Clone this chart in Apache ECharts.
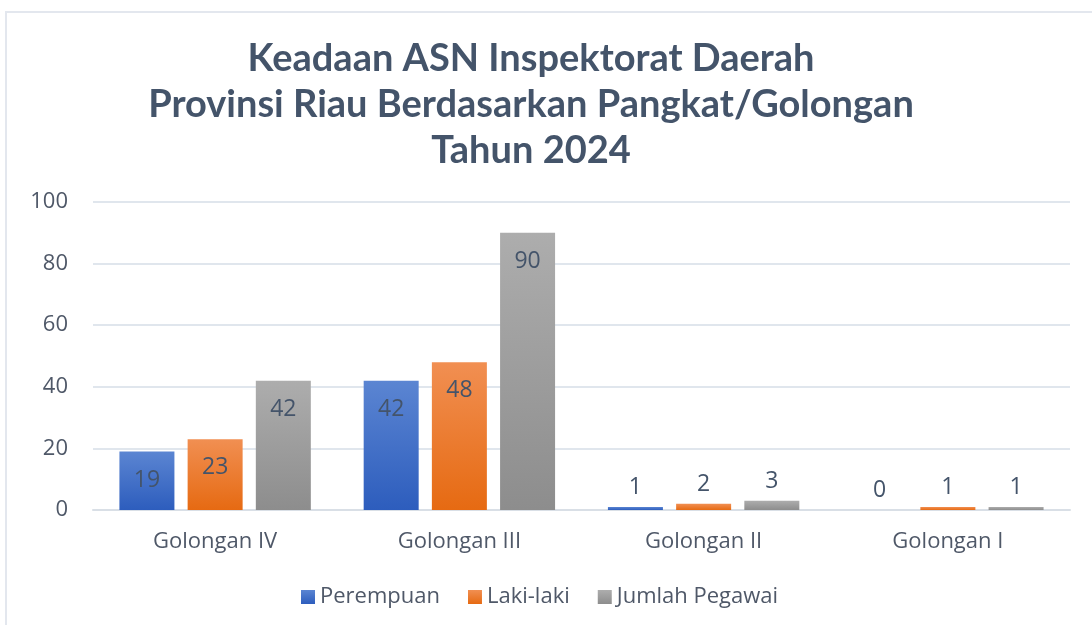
<!DOCTYPE html>
<html>
<head>
<meta charset="utf-8">
<script src="https://cdn.jsdelivr.net/npm/echarts@6/dist/echarts.min.js"></script>
<style>
  html, body { margin: 0; padding: 0; background: #fff; }
  #frame { position: absolute; left: 5px; top: 11px; width: 1100px; height: 630px; border: 2px solid #e3e7ee; box-sizing: border-box; }
  #main { position: absolute; left: 0; top: 0; width: 1092px; height: 625px; }
</style>
</head>
<body>
<div id="frame"></div>
<div id="main"></div>
<script>
const categories = ['Golongan IV', 'Golongan III', 'Golongan II', 'Golongan I'];
const perempuan = [19, 42, 1, 0];
const lakiLaki = [23, 48, 2, 1];
const jumlahPegawai = [42, 90, 3, 1];
const yTicks = { min: 0, max: 100, interval: 20 };

const textColor = '#4f5868';
const chart = echarts.init(document.getElementById('main'));

const grad = (top, bottom) => new echarts.graphic.LinearGradient(0, 0, 0, 1, [
  { offset: 0, color: top },
  { offset: 1, color: bottom }
]);

// big bars get the label inside the top, tiny ones above
const withLabels = (values) => values.map((v) => ({
  value: v,
  label: v > 8
    ? { position: 'insideTop', distance: 17 }
    : { position: 'top', distance: 8 }
}));

const barSeries = (name, values, top, bottom) => ({
  name: name,
  type: 'bar',
  barWidth: 55,
  barGap: '24%',
  data: withLabels(values),
  itemStyle: { color: grad(top, bottom) },
  label: {
    show: true,
    color: '#44546a',
    fontSize: 23,
    fontFamily: 'Open Sans'
  }
});

const option = {
  animation: false,
  title: {
    text: 'Keadaan ASN Inspektorat Daerah\nProvinsi Riau Berdasarkan Pangkat/Golongan\nTahun 2024',
    left: 526,
    top: 31,
    textAlign: 'center',
    textStyle: {
      color: '#44546a',
      fontSize: 38,
      fontWeight: 'bold',
      fontFamily: 'Lato',
      lineHeight: 46
    }
  },
  legend: {
    top: 581,
    left: 296,
    itemWidth: 14,
    itemHeight: 14,
    itemGap: 28,
    icon: 'rect',
    textStyle: { color: textColor, fontSize: 22, fontFamily: 'Open Sans' },
    data: ['Perempuan', 'Laki-laki', 'Jumlah Pegawai']
  },
  grid: { left: 93, right: 22, top: 202, bottom: 115 },
  xAxis: {
    type: 'category',
    data: categories,
    axisTick: { show: false },
    axisLine: { lineStyle: { color: '#d9dfe6', width: 2 } },
    axisLabel: { color: textColor, fontSize: 22, fontFamily: 'Open Sans', margin: 21 }
  },
  yAxis: {
    type: 'value',
    min: yTicks.min,
    max: yTicks.max,
    interval: yTicks.interval,
    axisLine: { show: false },
    axisTick: { show: false },
    splitLine: { lineStyle: { color: '#e0e6ed', width: 2 } },
    axisLabel: { color: textColor, fontSize: 22, fontFamily: 'Open Sans', margin: 25 }
  },
  series: [
    barSeries('Perempuan', perempuan, '#5b85d2', '#2d5dbd'),
    barSeries('Laki-laki', lakiLaki, '#f18f52', '#e66a12'),
    barSeries('Jumlah Pegawai', jumlahPegawai, '#adadad', '#8d8d8d')
  ]
};

chart.setOption(option);
</script>
</body>
</html>
